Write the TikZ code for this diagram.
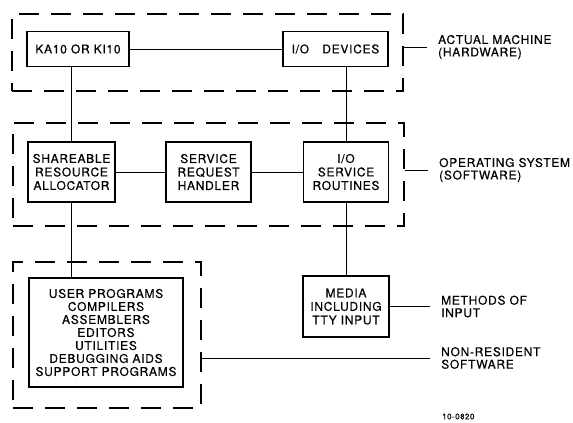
\documentclass[tikz,border=0pt]{standalone}
\usepackage{fontspec}
\setmainfont{TeX Gyre Heros}[LetterSpace=6,FakeBold=0.4]
\begin{document}
\begin{tikzpicture}[x=1pt,y=-1pt]
\tikzstyle{blk}=[draw, line width=1.4pt, inner sep=0pt, align=center, font=\fontsize{12}{13.5}\selectfont]
\tikzstyle{grp}=[draw, line width=2.7pt, dash pattern=on 20pt off 12pt, inner sep=0pt]
\tikzstyle{lab}=[anchor=west, inner xsep=11pt, inner ysep=0pt, align=left, font=\fontsize{12}{12.5}\selectfont]
\tikzstyle{con}=[line width=0.9pt]
\useasboundingbox (0,0) rectangle (573,423);
%hardware
\node[grp, minimum width=391, minimum height=77] (hw) at (207.5,52.5) {};
\node[blk, minimum width=102, minimum height=35] (ka) at (78,49) {KA10 OR KI10};
\node[blk, minimum width=105, minimum height=35] (iod) at (335.5,49) {I/O\hspace{1.1em}DEVICES};
\draw[con] (ka) -- (iod);
%operating system
\node[grp, minimum width=391, minimum height=103] (os) at (208.5,174.5) {};
\node[blk, minimum width=87, minimum height=60] (sra) at (71.5,172) {SHAREABLE\\RESOURCE\\ALLOCATOR};
\node[blk, minimum width=85, minimum height=60] (srh) at (208.5,172) {SERVICE\\REQUEST\\HANDLER};
\node[blk, minimum width=85, minimum height=60] (ios) at (346,172) {I/O\\SERVICE\\ROUTINES};
\draw[con] (sra) -- (srh);
\draw[con] (srh) -- (ios);
\draw[con] (sra.north) -- (sra.north |- ka.south);
\draw[con] (ios.north) -- (ios.north |- iod.south);
%non-resident
\node[grp, minimum width=188, minimum height=146] (nr) at (107,335) {};
\node[blk, minimum width=154, minimum height=109, font=\fontsize{12}{13}\selectfont] (usr) at (106,332.5)
  {USER PROGRAMS\\COMPILERS\\ASSEMBLERS\\EDITORS\\UTILITIES\\DEBUGGING AIDS\\SUPPORT PROGRAMS};
\draw[con] (sra.south) -- (sra.south |- usr.north);
\node[blk, minimum width=86, minimum height=61] (med) at (346,306.5) {MEDIA\\INCLUDING\\TTY INPUT};
\draw[con] (ios.south) -- (med.north);
%labels
\node[lab] (hwl) at (427,47) {ACTUAL MACHINE\\(HARDWARE)};
\draw[con] (hwl.west -| hw.east) -- (hwl.west);
\node[lab] (osl) at (428,170) {OPERATING SYSTEM\\(SOFTWARE)};
\draw[con] (osl.west -| os.east) -- (osl.west);
\node[lab] (medl) at (430,306.5) {METHODS OF\\INPUT};
\draw[con] (med.east) -- (medl.west);
\node[lab] (nrl) at (430,358) {NON-RESIDENT\\SOFTWARE};
\draw[con] (nrl.west -| nr.east) -- (nrl.west);
\node[anchor=west, inner sep=0pt, font=\fontsize{8}{8}\selectfont] (id) at (442,416.5) {10-0820};
\end{tikzpicture}
\end{document}
